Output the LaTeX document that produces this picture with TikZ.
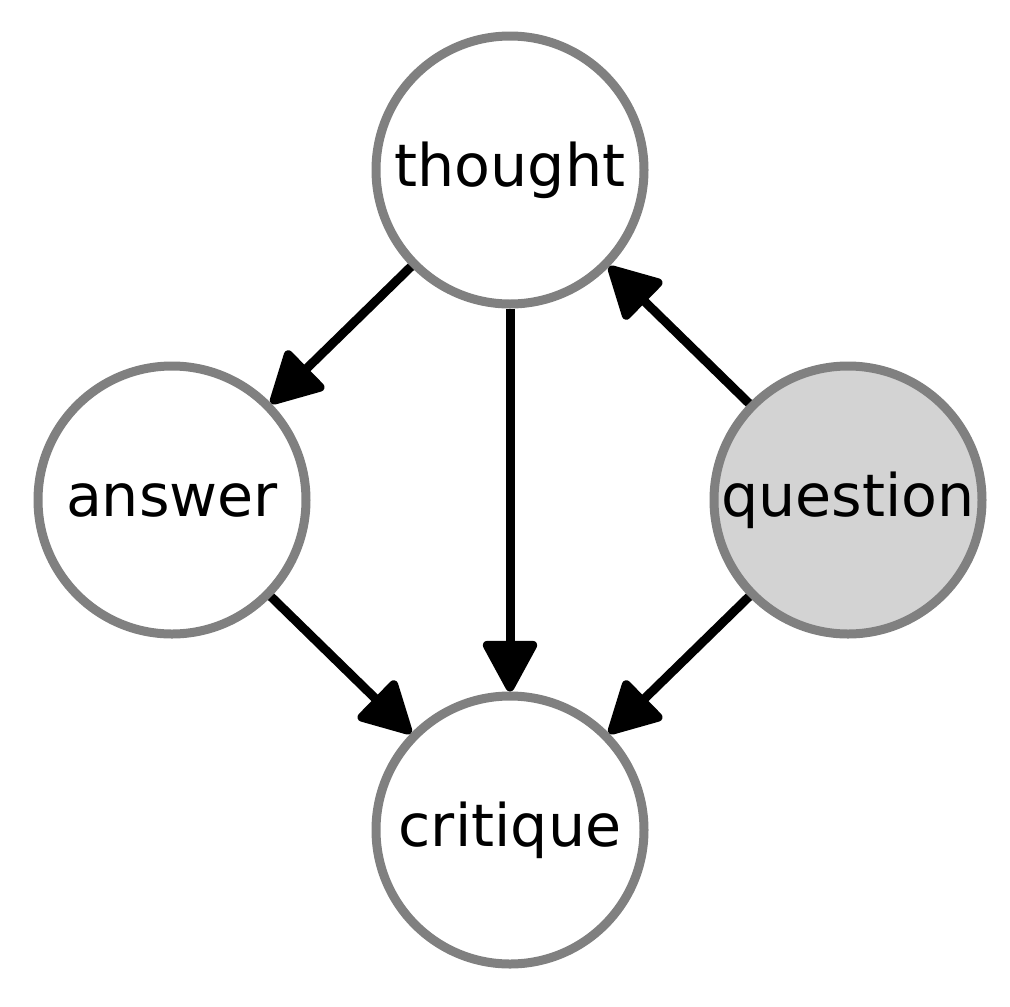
\documentclass[tikz,border=0pt]{standalone}
\usepackage{fontspec}
\setmainfont{DejaVu Sans}
\usetikzlibrary{arrows.meta}
\definecolor{qfill}{RGB}{211,211,211}
\definecolor{rim}{RGB}{128,128,128}
\begin{document}
\begin{tikzpicture}
			\tikzstyle{vertex}  = [circle, minimum size=2.68cm, inner sep=0pt, line width=0.9mm, draw=rim, fill=white, font=\fontsize{16.7}{20}\selectfont]
			\tikzstyle{link} = [line width=0.9mm, -{Triangle[length=5.6mm, width=5.8mm, round]}]

			\useasboundingbox (0, 0) rectangle (10.1, 10.06);

			\foreach \name/\x/\y in {thought/5.10/8.36, answer/1.72/5.06, critique/5.10/1.76}
				\node[vertex] (\name) at (\x, \y) {\name};
			\node[vertex, fill=qfill] (question) at (8.48, 5.06) {question};

			\foreach \from/\to in {thought/answer, thought/critique, answer/critique, question/thought, question/critique}
				\path[link] (\from) edge (\to);
		\end{tikzpicture}
\end{document}
